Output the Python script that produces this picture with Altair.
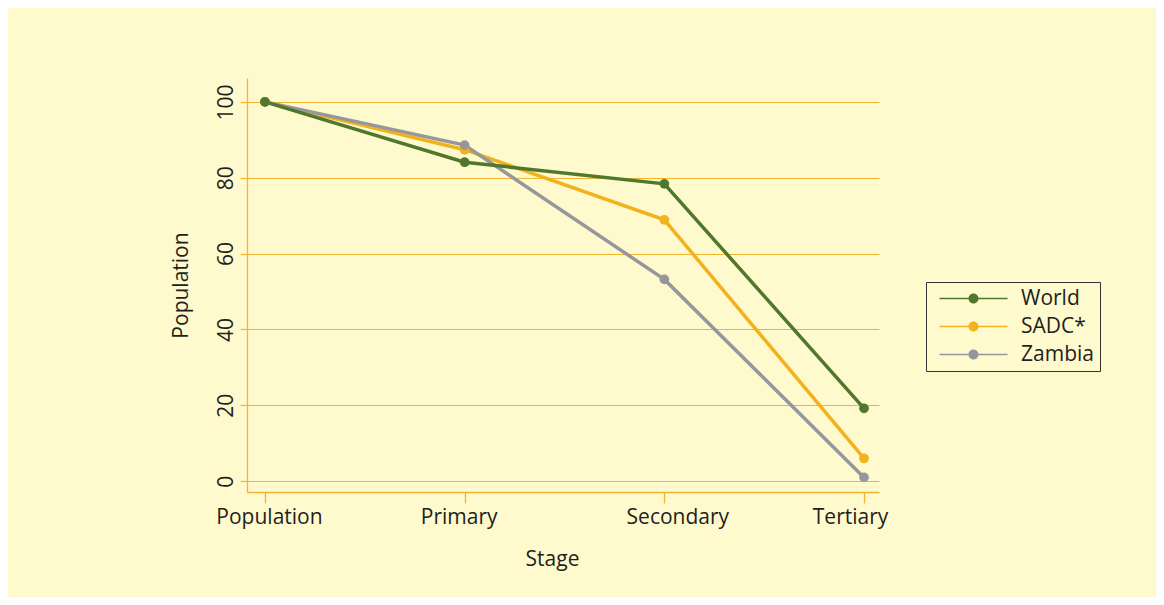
import json
import altair as alt
import pandas as pd

stages = ["Population", "Primary", "Secondary", "Tertiary"]
series_names = ["World", "SADC*", "Zambia"]
world = [100, 84.1, 78.4, 19.2]
sadc = [100, 87.4, 68.9, 6.0]
zambia = [100, 88.6, 53.2, 1.0]
y_ticks = [0, 20, 40, 60, 80, 100]
colors = ["#4f782d", "#f2b21e", "#96979c"]

draw_order = ["SADC*", "Zambia", "World"]
values = {"World": world, "SADC*": sadc, "Zambia": zambia}
rows = []
for k, s in enumerate(draw_order):
    for i, (st, v) in enumerate(zip(stages, values[s])):
        rows.append({"series": s, "stage": st, "pos": i + 1, "value": v, "z": k})
df = pd.DataFrame(rows)

grid_col = "#f2b531"
text_col = "#231f20"
label_expr = json.dumps(stages) + "[datum.value - 1]"

# per-label horizontal nudges as seen in the original figure
label_shift = {"condition": [
    {"test": "datum.value == 1", "value": 4},
    {"test": "datum.value == 2", "value": -6},
    {"test": "datum.value == 3", "value": 13},
    {"test": "datum.value == 4", "value": -14},
], "value": 0}

x_enc = alt.X(
    "pos:Q",
    scale=alt.Scale(domain=[0.91, 4.075], nice=False, zero=False),
    axis=alt.Axis(
        values=[1, 2, 3, 4], labelExpr=label_expr, title="Stage", grid=False,
        labelAngle=0, tickSize=11, tickColor=grid_col, domainColor=grid_col,
        domainWidth=1.3, tickWidth=1.3, labelFontSize=21, titleFontSize=21,
        labelPadding=3, titlePadding=21, labelColor=text_col, titleColor=text_col,
        titleFontWeight="normal", titleX=305, labelOffset=label_shift,
    ),
)
y_enc = alt.Y(
    "value:Q",
    scale=alt.Scale(domain=[-2.85, 106.3], nice=False, zero=False),
    axis=alt.Axis(
        values=y_ticks, title="Population", grid=True, gridColor=grid_col,
        gridWidth=1.2, labelAngle=270, tickSize=7, tickColor=grid_col,
        domainColor=grid_col, domainWidth=1.3, tickWidth=1.2, labelFontSize=21,
        titleFontSize=21, labelPadding=4, titlePadding=24, labelColor=text_col,
        titleColor=text_col, titleFontWeight="normal",
    ),
)

# legend glyph: thin line with a dot in the middle (unit = 5px at size 100)
sym_path = ("M-6.8,-0.13H6.8V0.13H-6.8Z "
            "M1,0A1,1,0,1,1,-1,0A1,1,0,1,1,1,0Z")

lines = alt.Chart(df).mark_line(strokeWidth=3.5).encode(
    x=x_enc, y=y_enc,
    stroke=alt.Stroke("series:N", scale=alt.Scale(domain=series_names, range=colors), legend=None),
    detail="series:N",
    order="pos:Q",
)
points = alt.Chart(df).mark_point(filled=True, size=95, opacity=1).encode(
    x=x_enc, y=y_enc,
    color=alt.Color(
        "series:N",
        scale=alt.Scale(domain=series_names, range=colors),
        legend=alt.Legend(
            title=None, orient="none", legendX=679, legendY=204,
            strokeColor="#333333", padding=6, symbolType=sym_path,
            symbolSize=100, symbolStrokeWidth=0, labelFontSize=21,
            labelOffset=37, rowPadding=6, labelColor=text_col, symbolOffset=31,
        ),
    ),
    order="z:Q",
)

chart = alt.layer(lines, points).resolve_scale(color="independent").properties(
    width=632, height=414,
    background="#fffacd",
    autosize=alt.AutoSizeParams(type="none"),
    padding={"left": 239, "top": 70, "right": 277, "bottom": 105},
).configure(font="Open Sans").configure_view(strokeWidth=0)

chart.save("out.html", embed_options={"renderer": "svg", "actions": False})
